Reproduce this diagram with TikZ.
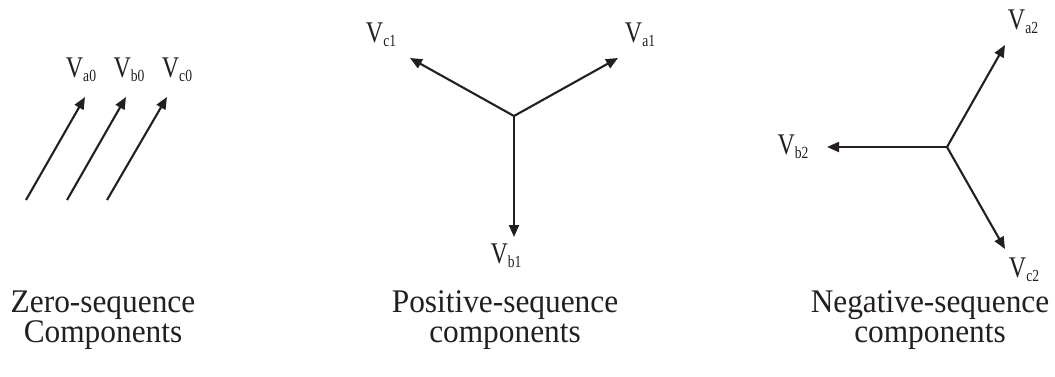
\documentclass[tikz,border=0pt]{standalone}
\usepackage{fontspec}
\setmainfont{Liberation Serif}
\newfontfamily\labfont[FakeStretch=0.8]{Liberation Serif}
\newfontfamily\capfont[FakeStretch=0.95]{Liberation Serif}
\usetikzlibrary{arrows.meta}
\definecolor{ink}{HTML}{231F20}
\newcommand{\phv}[1]{{\labfont\fontsize{30}{30}\selectfont V\raisebox{-4pt}{\fontsize{17}{17}\selectfont #1}}}
\begin{document}
\begin{tikzpicture}[x=1pt,y=-1pt,
  vec/.style={line width=2.1pt,draw=ink,-{Triangle[length=12pt,width=10pt]}},
  lab/.style={inner sep=0pt,text=ink,anchor=center},
  capt/.style={inner sep=0pt,text=ink,align=center,font=\capfont\fontsize{33}{30}\selectfont}]
\useasboundingbox (0,0) rectangle (1055,377);
% zero sequence
\coordinate (z1s) at (26,200); \coordinate (z1e) at (85,97);
\coordinate (z2s) at (67,200); \coordinate (z2e) at (126,97);
\coordinate (z3s) at (107,200); \coordinate (z3e) at (167,97);
\draw[vec] (z1s) -- (z1e);
\draw[vec] (z2s) -- (z2e);
\draw[vec] (z3s) -- (z3e);
\node[lab] (va0) at (81,70) {\phv{a0}};
\node[lab] (vb0) at (129,70) {\phv{b0}};
\node[lab] (vc0) at (177,70) {\phv{c0}};
% positive sequence
\coordinate (p0) at (514,116);
\coordinate (pa) at (618,58);
\coordinate (pc) at (410,58);
\coordinate (pb) at (514,237);
\draw[vec] (p0) -- (pa);
\draw[vec] (p0) -- (pc);
\draw[vec] (p0) -- (pb);
\node[lab] (va1) at (640,35) {\phv{a1}};
\node[lab] (vc1) at (381,35) {\phv{c1}};
\node[lab] (vb1) at (506,256) {\phv{b1}};
% negative sequence
\coordinate (n0) at (947,147);
\coordinate (na) at (1005,45);
\coordinate (nb) at (827,147);
\coordinate (nc) at (1005,249);
\draw[vec] (n0) -- (na);
\draw[vec] (n0) -- (nb);
\draw[vec] (n0) -- (nc);
\node[lab] (va2) at (1023,22) {\phv{a2}};
\node[lab] (vb2) at (793,147) {\phv{b2}};
\node[lab] (vc2) at (1024,270) {\phv{c2}};
% captions
\node[capt,anchor=base] (cz) at (103,342) {Zero-sequence\\Components};
\node[capt,anchor=base] (cp) at (505,342) {Positive-sequence\\components};
\node[capt,anchor=base] (cn) at (930,342) {Negative-sequence\\components};
\end{tikzpicture}
\end{document}
